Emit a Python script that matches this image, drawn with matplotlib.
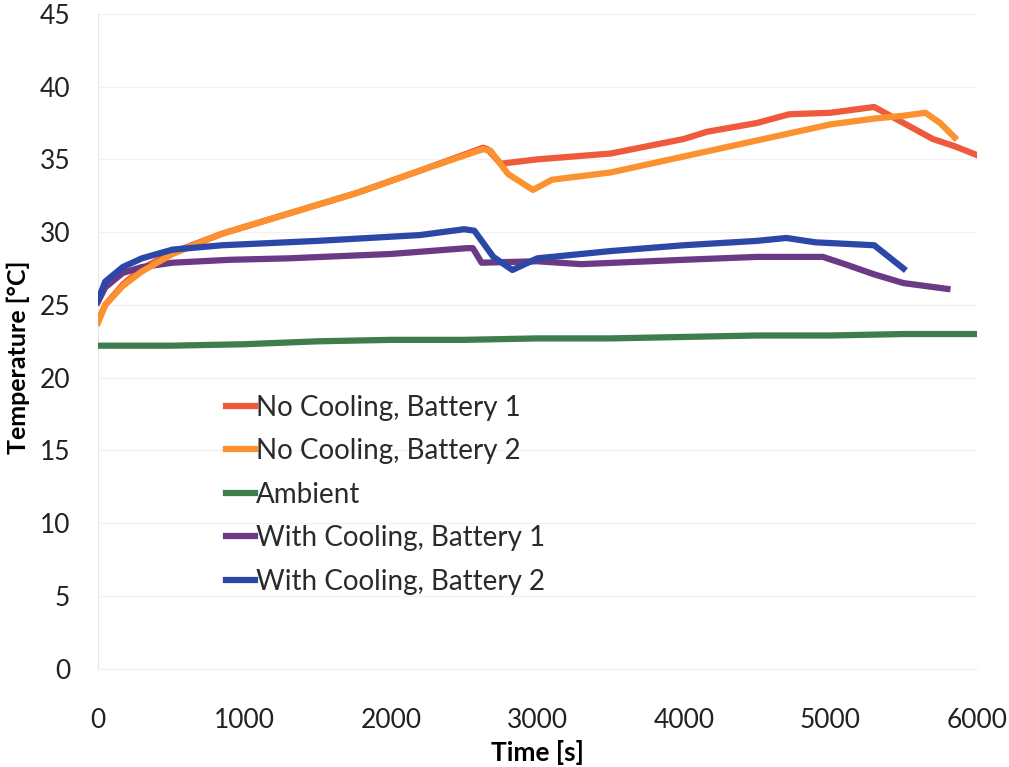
import matplotlib
matplotlib.use('Agg')
import matplotlib.pyplot as plt

# time [s] and temperature [C]
t_nc1 = [0, 50, 170, 300, 510, 850, 1310, 1770, 2220, 2630, 2660, 2750, 3000, 3500, 3700,
         4000, 4160, 4500, 4720, 5000, 5300, 5500, 5700, 5850, 6000]
T_nc1 = [23.8, 25.0, 26.4, 27.5, 28.6, 29.9, 31.3, 32.7, 34.3, 35.8, 35.7, 34.7, 35.0, 35.4, 35.8,
         36.4, 36.9, 37.5, 38.1, 38.2, 38.6, 37.5, 36.4, 35.9, 35.3]

t_nc2 = [0, 50, 170, 300, 510, 850, 1310, 1770, 2220, 2630, 2680, 2800, 2970, 3100, 3500,
         4000, 4500, 5000, 5300, 5500, 5650, 5750, 5850]
T_nc2 = [23.8, 25.0, 26.3, 27.3, 28.5, 29.9, 31.3, 32.7, 34.3, 35.7, 35.6, 34.0, 32.9, 33.6, 34.1,
         35.2, 36.3, 37.4, 37.8, 38.0, 38.2, 37.5, 36.5]

t_amb = [0, 500, 1000, 1500, 2000, 2500, 3000, 3500, 4000, 4500, 5000, 5500, 6000]
T_amb = [22.2, 22.2, 22.3, 22.5, 22.6, 22.6, 22.7, 22.7, 22.8, 22.9, 22.9, 23.0, 23.0]

t_wc1 = [0, 50, 170, 300, 510, 900, 1300, 2000, 2520, 2560, 2620, 3000, 3300, 4000,
         4500, 4950, 5100, 5300, 5500, 5800]
T_wc1 = [25.2, 26.2, 27.2, 27.6, 27.9, 28.1, 28.2, 28.5, 28.9, 28.9, 27.9, 28.0, 27.8, 28.1,
         28.3, 28.3, 27.8, 27.1, 26.5, 26.1]

t_wc2 = [0, 50, 170, 300, 510, 850, 1500, 2200, 2500, 2570, 2700, 2830, 3000, 3500, 4000,
         4500, 4700, 4900, 5300, 5400, 5500]
T_wc2 = [25.3, 26.6, 27.6, 28.2, 28.8, 29.1, 29.4, 29.8, 30.2, 30.1, 28.3, 27.4, 28.2, 28.7, 29.1,
         29.4, 29.6, 29.3, 29.1, 28.3, 27.5]

plt.rcParams['font.family'] = ['Lato', 'DejaVu Sans']

fig = plt.figure(figsize=(10.09, 7.67), dpi=100)
ax = fig.add_axes([0.097, 0.128, 0.871, 0.854])

ax.plot(t_nc1, T_nc1, color='#f05a3c', lw=4.5, label='No Cooling, Battery 1', zorder=3)
ax.plot(t_nc2, T_nc2, color='#fb922f', lw=4.5, label='No Cooling, Battery 2', zorder=4)
ax.plot(t_amb, T_amb, color='#3e7d4e', lw=4.5, label='Ambient', zorder=3)
ax.plot(t_wc1, T_wc1, color='#6b3a85', lw=4.5, label='With Cooling, Battery 1', zorder=3)
ax.plot(t_wc2, T_wc2, color='#2b48a8', lw=4.5, label='With Cooling, Battery 2', zorder=4)

ax.set_xlim(0, 6000)
ax.set_ylim(0, 45)
ax.set_xticks(range(0, 6001, 1000))
ax.set_yticks(range(0, 46, 5))
ax.grid(axis='y', color='#f2f2f2', lw=1)
ax.set_axisbelow(True)
for s in ['top', 'right']:
    ax.spines[s].set_visible(False)
ax.spines['left'].set_color('#e6e6e6')
ax.spines['bottom'].set_color('#f0f0f0')
ax.tick_params(axis='x', length=0, labelsize=19, colors='#222222', pad=28)
ax.tick_params(axis='y', length=0, labelsize=19, colors='#222222', pad=20)

ax.set_xlabel('Time [s]', fontsize=19, fontweight='bold', labelpad=5)
ax.set_ylabel('Temperature [°C]', fontsize=18, fontweight='bold')
ax.yaxis.set_label_coords(-0.077, 0.476)

ax.legend(loc='center left', bbox_to_anchor=(0.117, 0.266), frameon=False, fontsize=20,
          handlelength=1.05, handletextpad=0.05, labelspacing=0.63, labelcolor='#2a2a2a')

fig.savefig('out.png', dpi=100)
